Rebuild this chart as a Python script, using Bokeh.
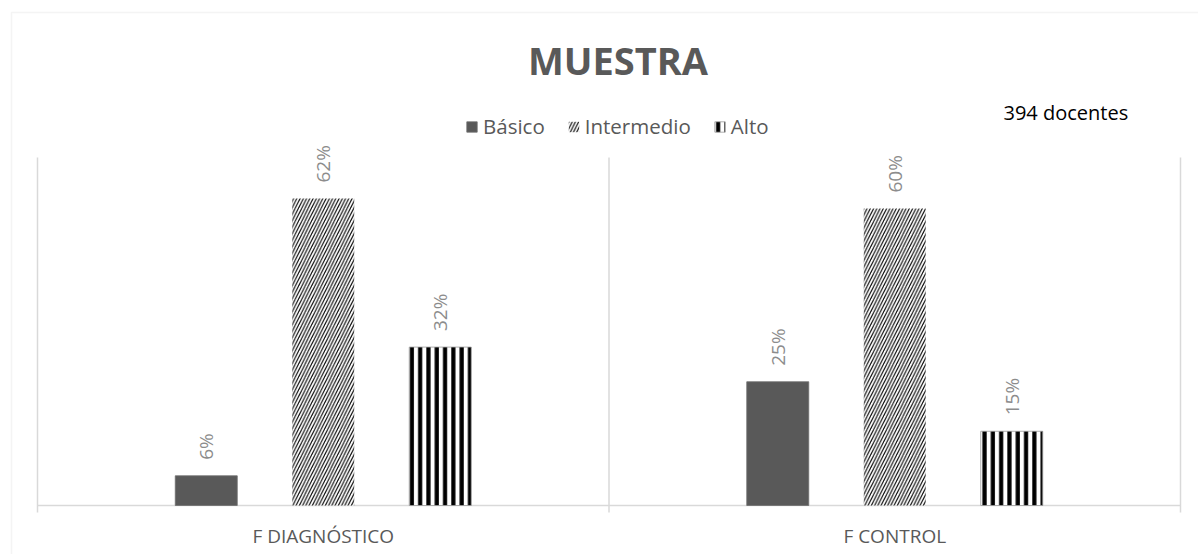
import math
from bokeh.plotting import figure
from bokeh.models import (ColumnDataSource, Range1d, Label, Legend, LegendItem, BoxAnnotation)
from bokeh.core.properties import value
from bokeh.embed import file_html
from bokeh.resources import INLINE

categories = ["F DIAGNÓSTICO", "F CONTROL"]
series = ["Básico", "Intermedio", "Alto"]
basico = [6, 25]
intermedio = [62, 60]
alto = [32, 15]
title_text = "MUESTRA"
note_text = "394 docentes"

FONT = "Open Sans"
GREY = "#595959"
LINE = "#d9d9d9"

W_PX, H_PX = 1198, 554
PLOT_L, PLOT_R = 37, 1180          # category area, canvas px
BASE_Y, PX_PER_PCT = 505, 4.95     # baseline and vertical scale
Y_TOP = 70.3                       # top of value area

n = len(categories)
unit = (PLOT_R - PLOT_L) / n
x_range = Range1d(-PLOT_L / unit, n + (W_PX - PLOT_R) / unit)
y_range = Range1d(-(H_PX - BASE_Y) / PX_PER_PCT, BASE_Y / PX_PER_PCT)

centers = [i + 0.5 for i in range(n)]
OFF = 117 / unit
W = 62 / unit

src = ColumnDataSource(dict(
    c=centers, cat=categories, zero=[0] * n,
    basico=basico, intermedio=intermedio, alto=alto,
    basico_lbl=[f"{v}%" for v in basico],
    intermedio_lbl=[f"{v}%" for v in intermedio],
    alto_lbl=[f"{v}%" for v in alto],
    x_b=[c - OFF for c in centers], x_i=centers, x_a=[c + OFF for c in centers],
))

p = figure(width=W_PX, height=H_PX, output_backend="svg", toolbar_location=None,
           x_range=x_range, y_range=y_range,
           min_border=0, x_axis_location=None, y_axis_location=None)
p.outline_line_color = None
p.grid.visible = False
p.background_fill_color = "white"
p.border_fill_color = "white"

# outer chart border (left and top edges visible in the window)
p.add_layout(BoxAnnotation(left=11, right=1400, top=12, bottom=900,
                           left_units="canvas", right_units="canvas",
                           top_units="canvas", bottom_units="canvas",
                           fill_alpha=0, line_color=LINE, line_width=1.5))

# separators between categories (extend slightly below the baseline like ticks)
seps = list(range(n + 1))
tick_len = 7 / PX_PER_PCT
p.segment(x0=seps, y0=[-tick_len] * len(seps), x1=seps, y1=[Y_TOP] * len(seps),
          line_color=LINE, line_width=1.5)
# baseline
p.segment(x0=[0], y0=[0], x1=[n], y1=[0], line_color=LINE, line_width=1.5)

r1 = p.vbar(x="x_b", top="basico", width=W, source=src,
            fill_color=GREY, line_color="#6e6e6e", line_width=0.8)
r2 = p.vbar(x="x_i", top="intermedio", width=W, source=src,
            fill_color="white", line_color=None,
            hatch_pattern="right_diagonal_line", hatch_color="black", hatch_scale=6.5, hatch_weight=1.1)
r3 = p.vbar(x="x_a", top="alto", width=W, source=src,
            fill_color="white", line_color="#9a9a9a", line_width=0.8,
            hatch_pattern="vertical_line", hatch_color="black", hatch_scale=8.3, hatch_weight=4.2)

for xc, col in [("x_b", "basico"), ("x_i", "intermedio"), ("x_a", "alto")]:
    p.text(x=xc, y=col, text=col + "_lbl", source=src,
           angle=math.pi / 2, text_align="left", text_baseline="middle", y_offset=-16,
           text_font=value(FONT), text_font_size="19px", text_color="#8c8c8c")

# category labels
p.text(x="c", y="zero", text="cat", source=src, y_offset=30,
       text_align="center", text_baseline="middle",
       text_font=value(FONT), text_font_size="19px", text_color=GREY)

legend = Legend(items=[LegendItem(label=s, renderers=[r]) for s, r in zip(series, [r1, r2, r3])],
                orientation="horizontal", location=(465, H_PX - 140),
                glyph_width=13, glyph_height=13, label_standoff=5, spacing=22,
                padding=0, margin=0, border_line_color=None, background_fill_alpha=0,
                label_text_font=FONT, label_text_font_size="20.5px", label_text_color=GREY)
p.add_layout(legend)

p.add_layout(Label(x=617.5, y=H_PX - 59, x_units="screen", y_units="screen", text=title_text,
                   text_align="center", text_baseline="middle", text_font=FONT,
                   text_font_size="38px", text_font_style="bold", text_color=GREY))
p.add_layout(Label(x=1003, y=H_PX - 112, x_units="screen", y_units="screen", text=note_text,
                   text_align="left", text_baseline="middle", text_font=FONT,
                   text_font_size="20px", text_color="black"))

open("out.html", "w").write(file_html(p, INLINE))
